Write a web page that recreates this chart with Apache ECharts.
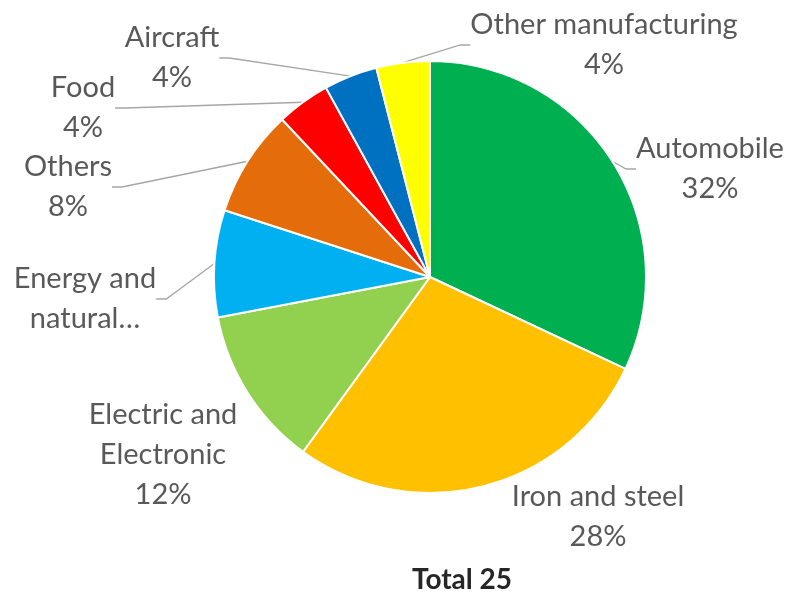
<!DOCTYPE html>
<html><head><meta charset="utf-8">
<script src="https://cdn.jsdelivr.net/npm/echarts@6/dist/echarts.min.js"></script>
<style>html,body{margin:0;padding:0;background:#fff}#c{width:787px;height:595px}</style>
</head><body><div id="c"></div>
<script>
const categories = ["Automobile", "Iron and steel", "Electric and\nElectronic", "Energy and\nnatural…", "Others", "Food", "Aircraft", "Other manufacturing"];
const values = [8, 7, 3, 2, 2, 1, 1, 1];
const colors = ["#00B050", "#FFC000", "#92D050", "#00B0F0", "#E46C0A", "#FF0000", "#0070C0", "#FFFF00"];
const showLine = [true, false, false, true, true, true, true, true];
const showPct = [true, true, true, false, true, true, true, true];
const totalLabel = "Total 25";
// label anchor positions (layout only)
const labelPos = [[710,169],[598,517],[163,455],[85,299],[68,187],[83,108],[172,58],[604,45]];

const chart = echarts.init(document.getElementById('c'));
chart.setOption({
  animation: false,
  title: {text: totalLabel, left: 457, top: 561, textAlign: 'center',
    textStyle: {fontFamily: 'Lato', fontSize: 28, fontWeight: 'bold', color: '#262626'}},
  series: [{
    type: 'pie',
    center: [430, 277],
    radius: 216,
    startAngle: 90,
    clockwise: true,
    itemStyle: {borderColor: '#fff', borderWidth: 2},
    label: {show: true, overflow: 'none', edgeDistance: 0, bleedMargin: 0,
      formatter: p => showPct[p.dataIndex] ? p.name + '\n' + p.percent + '%' : p.name,
      fontFamily: 'Lato', fontSize: 29, lineHeight: 40, color: '#595959', align: 'center'},
    labelLine: {show: true, lineStyle: {color: '#A6A6A6', width: 1.3}, length: 10, length2: 10},
    labelLayout: function (p) {
      const pos = labelPos[p.dataIndex];
      return {x: pos[0], y: pos[1], align: 'center', verticalAlign: 'middle'};
    },
    data: categories.map((c, i) => ({name: c, value: values[i], itemStyle: {color: colors[i]}, labelLine: {show: showLine[i]}}))
  }]
});
</script></body></html>
